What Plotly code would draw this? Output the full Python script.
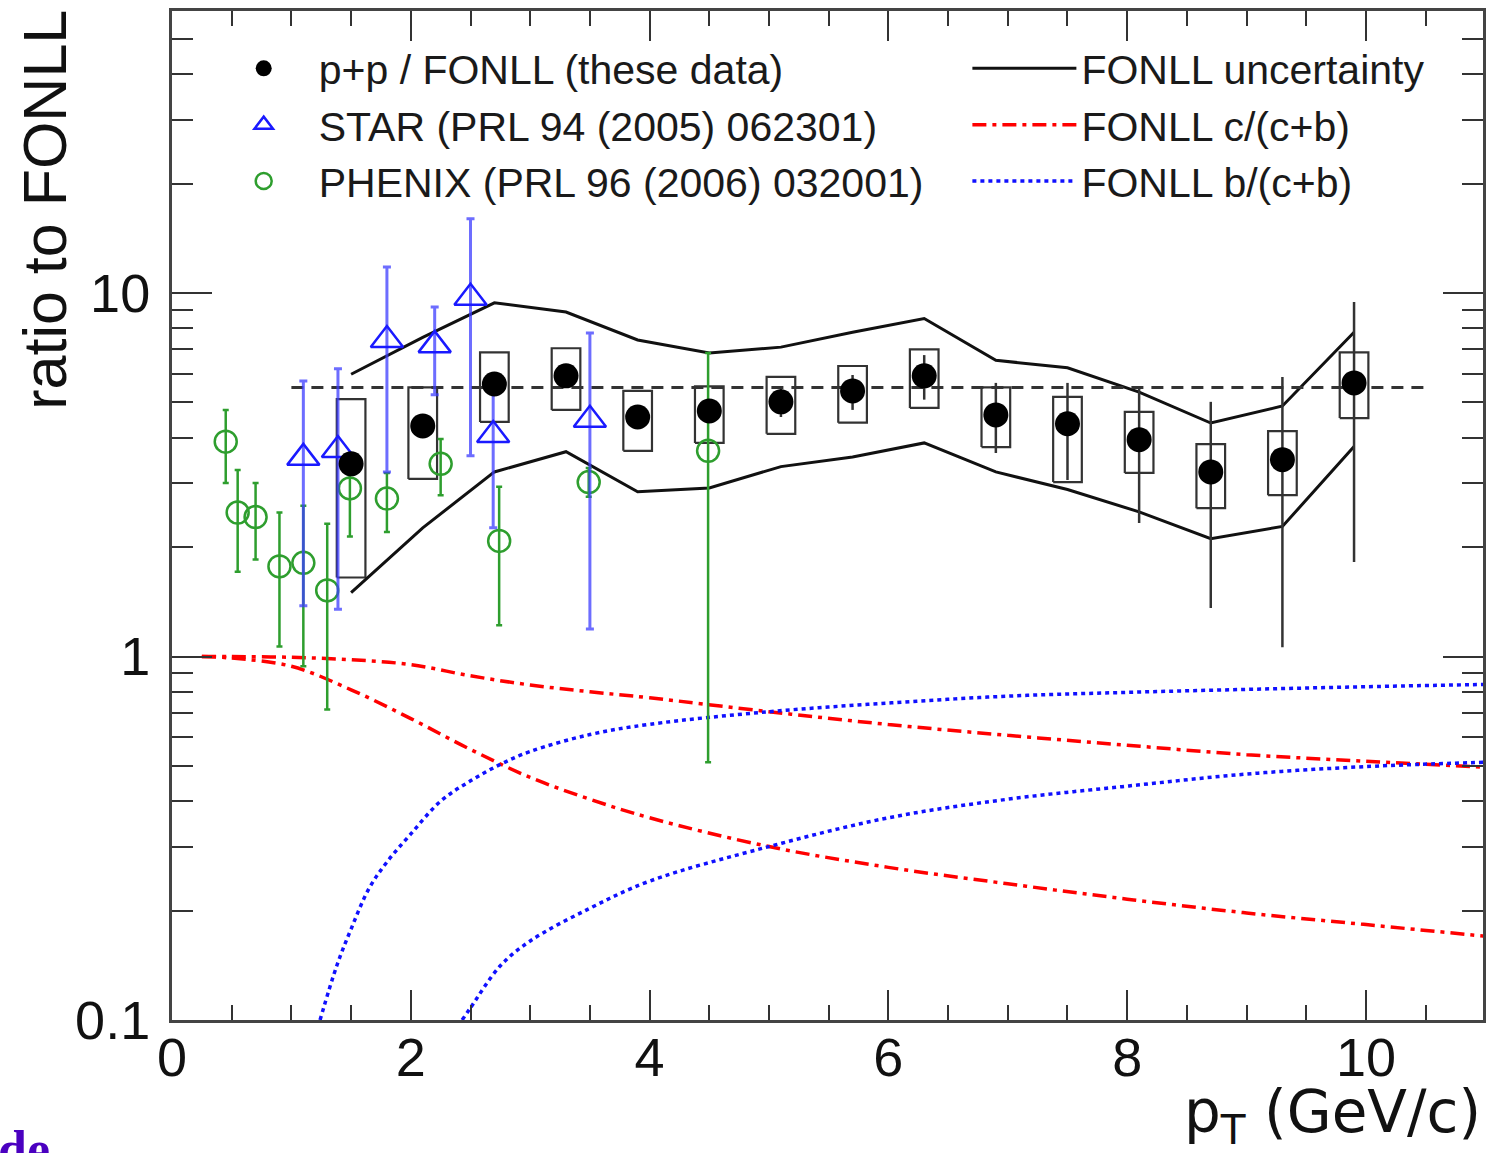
import plotly.graph_objects as go

# ---------------- data ----------------
pt_pp = [1.5, 2.1, 2.7, 3.3, 3.9, 4.5, 5.1, 5.7, 6.3, 6.9, 7.5, 8.1, 8.7, 9.3, 9.9]
ratio_pp = [3.39, 4.31, 5.62, 5.92, 4.56, 4.74, 5.02, 5.38, 5.92, 4.62, 4.37, 3.95, 3.22, 3.48, 5.66]
stat_lo = [3.15, 4.05, 5.35, 5.65, 4.32, 4.50, 4.56, 4.77, 5.09, 3.63, 3.06, 2.33, 1.36, 1.06, 1.82]
stat_hi = [3.63, 4.57, 5.90, 6.20, 4.80, 4.98, 5.49, 5.95, 6.75, 5.66, 5.66, 5.50, 5.02, 5.88, 9.45]
sys_lo = [1.65, 3.08, 4.42, 4.77, 3.68, 3.87, 4.10, 4.40, 4.83, 3.77, 3.02, 3.20, 2.56, 2.78, 4.53]
sys_hi = [5.11, 5.50, 6.87, 7.05, 5.38, 5.54, 5.88, 6.30, 7.00, 5.50, 5.18, 4.71, 3.84, 4.17, 6.87]

fonll_pt = [1.5, 2.1, 2.7, 3.3, 3.9, 4.5, 5.1, 5.7, 6.3, 6.9, 7.5, 8.1, 8.7, 9.3, 9.9]
fonll_hi = [5.98, 7.55, 9.40, 8.87, 7.43, 6.84, 7.10, 7.80, 8.51, 6.53, 6.23, 5.34, 4.39, 4.89, 7.80]
fonll_lo = [1.50, 2.26, 3.22, 3.66, 2.84, 2.91, 3.33, 3.54, 3.87, 3.22, 2.88, 2.50, 2.11, 2.28, 3.78]

ref_pt = [1.0, 10.5]
ref_val = [5.5, 5.5]

star_pt = [1.10, 1.39, 1.80, 2.20, 2.50, 2.69, 3.50]
star_val = [3.52, 3.70, 7.43, 7.19, 9.70, 4.07, 4.48]
star_lo = [1.38, 1.35, 3.22, 5.25, 3.57, 2.26, 1.19]
star_hi = [5.73, 6.19, 11.8, 9.15, 16.0, 5.96, 7.76]

phx_pt = [0.45, 0.55, 0.70, 0.90, 1.10, 1.30, 1.49, 1.80, 2.25, 2.74, 3.49, 4.49]
phx_val = [3.90, 2.49, 2.42, 1.77, 1.81, 1.52, 2.90, 2.72, 3.39, 2.08, 3.02, 3.68]
phx_lo = [3.00, 1.71, 1.85, 1.065, 0.94, 0.715, 2.14, 2.20, 2.78, 1.22, 2.75, 0.512]
phx_hi = [4.77, 3.26, 3.00, 2.49, 2.60, 2.32, 3.47, 3.20, 3.97, 2.93, 3.30, 6.84]

c_pt = [0.25, 0.5, 1.0, 1.5, 2.0, 2.5, 3.0, 3.5, 4.0, 5.0, 6.0, 7.0, 8.0, 9.0, 10.0, 11.0]
c_hi = [1.0, 1.0, 0.995, 0.98, 0.95, 0.885, 0.835, 0.80, 0.77, 0.705, 0.65, 0.607, 0.57, 0.537, 0.515, 0.496]
c_lo = [1.0, 0.99, 0.94, 0.81, 0.675, 0.555, 0.465, 0.405, 0.36, 0.30, 0.263, 0.237, 0.215, 0.197, 0.183, 0.17]

b_hi_pt = [1.24, 1.38, 1.5, 1.65, 1.8, 2.0, 2.25, 2.5, 2.75, 3.0, 3.5, 4.0, 5.0, 6.0, 7.0, 8.0, 9.0, 10.0, 11.0]
b_hi = [0.1, 0.141, 0.178, 0.23, 0.272, 0.325, 0.40, 0.455, 0.505, 0.548, 0.61, 0.651, 0.705, 0.745, 0.778, 0.797, 0.812, 0.826, 0.838]
b_lo_pt = [2.43, 2.5, 2.75, 3.0, 3.5, 4.0, 5.0, 6.0, 7.0, 8.0, 9.0, 10.0, 11.0]
b_lo = [0.1, 0.108, 0.141, 0.165, 0.203, 0.241, 0.30, 0.36, 0.405, 0.44, 0.475, 0.498, 0.512]

x_tick_vals = [0, 2, 4, 6, 8, 10]
y_tick_vals = [0.1, 1, 10]
y_tick_text = ["0.1", "1", "10"]
y_minor_vals = [0.2, 0.3, 0.4, 0.5, 0.6, 0.7, 0.8, 0.9, 2, 3, 4, 5, 6, 7, 8, 9, 20, 30, 40, 50]

# ---------------- styling ----------------
FONT = "Liberation Sans"
BOX_HW = 0.12
BLUE_ERR = "rgba(60,60,255,0.75)"
GREEN = "#2e9e2e"

fig = go.Figure()

# systematic boxes
bx, by = [], []
for x, lo, hi in zip(pt_pp, sys_lo, sys_hi):
    bx += [x - BOX_HW, x + BOX_HW, x + BOX_HW, x - BOX_HW, x - BOX_HW, None]
    by += [lo, lo, hi, hi, lo, None]
fig.add_trace(go.Scatter(x=bx, y=by, mode="lines", line=dict(color="#333333", width=2.2),
                         showlegend=False, hoverinfo="skip"))

# FONLL uncertainty band
fig.add_trace(go.Scatter(x=fonll_pt, y=fonll_hi, mode="lines", line=dict(color="#111111", width=3),
                         name="FONLL uncertainty", legend="legend2", legendrank=1, legendgroup="unc"))
fig.add_trace(go.Scatter(x=fonll_pt, y=fonll_lo, mode="lines", line=dict(color="#111111", width=3),
                         showlegend=False, legendgroup="unc"))

# dashed reference line
fig.add_trace(go.Scatter(x=ref_pt, y=ref_val, mode="lines",
                         line=dict(color="#333333", width=3, dash="12px,8px"), showlegend=False))

# c/(c+b)
RED_DASH = "14px,6px,4px,6px"
fig.add_trace(go.Scatter(x=c_pt, y=c_hi, mode="lines", line=dict(color="#ff0000", width=3.5, dash=RED_DASH, shape="spline"),
                         name="FONLL c/(c+b)", legend="legend2", legendrank=2, legendgroup="c"))
fig.add_trace(go.Scatter(x=c_pt, y=c_lo, mode="lines", line=dict(color="#ff0000", width=3.5, dash=RED_DASH, shape="spline"),
                         showlegend=False, legendgroup="c"))

# b/(c+b)
BLUE_DOT = "4px,4px"
fig.add_trace(go.Scatter(x=b_hi_pt, y=b_hi, mode="lines", line=dict(color="#1010ff", width=3.5, dash=BLUE_DOT, shape="spline"),
                         name="FONLL b/(c+b)", legend="legend2", legendrank=3, legendgroup="b"))
fig.add_trace(go.Scatter(x=b_lo_pt, y=b_lo, mode="lines", line=dict(color="#1010ff", width=3.5, dash=BLUE_DOT, shape="spline"),
                         showlegend=False, legendgroup="b"))

# PHENIX
fig.add_trace(go.Scatter(
    x=phx_pt, y=phx_val, mode="markers", name="PHENIX (PRL 96 (2006) 032001)", legendrank=3,
    marker=dict(symbol="circle-open", size=22, color=GREEN, line=dict(width=2.5, color=GREEN)),
    error_y=dict(type="data", symmetric=False,
                 array=[h - v for h, v in zip(phx_hi, phx_val)],
                 arrayminus=[v - l for v, l in zip(phx_val, phx_lo)],
                 color=GREEN, thickness=2.5, width=3)))

# STAR
fig.add_trace(go.Scatter(
    x=star_pt, y=star_val, mode="markers", name="STAR (PRL 94 (2005) 062301)", legendrank=2,
    marker=dict(symbol="triangle-up-open", size=28, color="#1a1aff", line=dict(width=2.5, color="#1a1aff")),
    error_y=dict(type="data", symmetric=False,
                 array=[h - v for h, v in zip(star_hi, star_val)],
                 arrayminus=[v - l for v, l in zip(star_val, star_lo)],
                 color=BLUE_ERR, thickness=3, width=4)))

# p+p / FONLL
fig.add_trace(go.Scatter(
    x=pt_pp, y=ratio_pp, mode="markers", name="p+p / FONLL (these data)", legendrank=1,
    marker=dict(symbol="circle", size=25, color="#000000"),
    error_y=dict(type="data", symmetric=False,
                 array=[h - v for h, v in zip(stat_hi, ratio_pp)],
                 arrayminus=[v - l for v, l in zip(ratio_pp, stat_lo)],
                 color="#333333", thickness=2.5, width=0)))

axis_common = dict(showline=True, linecolor="#444444", linewidth=3, mirror="allticks",
                   ticks="inside", tickwidth=2, tickcolor="#333333", showgrid=False, zeroline=False,
                   tickfont=dict(family=FONT, size=54, color="#111111"))

fig.update_layout(
    width=1494, height=1153,
    margin=dict(l=172, r=10, t=8, b=133),
    paper_bgcolor="white", plot_bgcolor="white",
    font=dict(family=FONT, color="#111111"),
    xaxis=dict(range=[0, 10.98], tickvals=x_tick_vals, ticklen=30, ticklabelstandoff=-12,
               minor=dict(dtick=0.5, tick0=0, ticks="inside", ticklen=15, tickwidth=2, tickcolor="#333333"),
               **axis_common),
    yaxis=dict(type="log", range=[-1, 1.776], tickvals=y_tick_vals, ticktext=y_tick_text, ticklen=40,
               ticklabelstandoff=8,
               minor=dict(tickmode="array", tickvals=y_minor_vals, ticks="inside", ticklen=21, tickwidth=2,
                          tickcolor="#333333"),
               **axis_common),
    legend=dict(x=0.028, y=0.976, xanchor="left", yanchor="top", bgcolor="rgba(0,0,0,0)",
                font=dict(family=FONT, size=41, color="#1a1a1a"), itemsizing="trace", itemwidth=100,
                tracegroupgap=0),
    legend2=dict(x=0.6067, y=0.976, xanchor="left", yanchor="top", bgcolor="rgba(0,0,0,0)",
                 font=dict(family=FONT, size=41, color="#1a1a1a"), itemwidth=104, tracegroupgap=0),
    annotations=[
        dict(text="ratio to FONLL", textangle=-90, xref="paper", yref="paper", x=-0.097, y=1.003,
             xanchor="center", yanchor="top", showarrow=False, font=dict(family=FONT, size=61, color="#111111")),
        dict(text="p<sub>T</sub> (GeV/c)", xref="paper", yref="paper", x=1.0, y=-0.095,
             xanchor="right", yanchor="middle", showarrow=False,
             font=dict(family="DejaVu Sans", size=58, color="#111111")),
        dict(text="<b>de</b>", xref="paper", yref="paper", x=-0.134, y=-0.098,
             xanchor="left", yanchor="top", showarrow=False,
             font=dict(family="Liberation Serif", size=52, color="#4a00c0")),
    ],
)

fig.write_html("out.html")
